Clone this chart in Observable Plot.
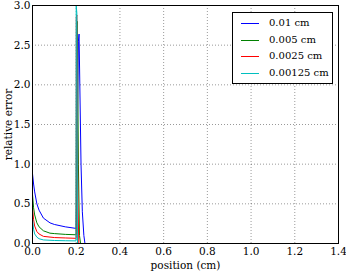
<!DOCTYPE html>
<html><head><meta charset="utf-8">
<script src="https://cdn.jsdelivr.net/npm/d3@7"></script>
<script src="https://cdn.jsdelivr.net/npm/@observablehq/plot@0.6"></script>
<style>
body{margin:0;background:#fff;}
#wrap{position:relative;width:346px;height:273px;font-family:'DejaVu Serif',serif;}
#legend{position:absolute;left:232px;top:12px;width:101px;height:72px;border:1px solid #000;background:#fff;font-size:10px;box-sizing:border-box;font-family:'DejaVu Serif',serif;}
.row{position:absolute;left:0;height:14px;line-height:14px;}
.sw{position:absolute;left:8px;top:7px;width:18px;height:0;border-top:1px solid;}
.lb{position:absolute;left:36px;white-space:nowrap;}
</style></head><body>
<div id="wrap"><div id="chart"></div><div id="legend"></div></div>
<script>
const seriesNames = ["0.01 cm","0.005 cm","0.0025 cm","0.00125 cm"];
const seriesColors = ["#0000ff","#008000","#ff0000","#00bfbf"];
const xTicks = [0,0.2,0.4,0.6,0.8,1.0,1.2,1.4];
const yTicks = [0,0.5,1.0,1.5,2.0,2.5,3.0];
const blueX = [0,0.005,0.01,0.02,0.03,0.05,0.08,0.1,0.15,0.2,0.21,0.213,0.222,0.228,0.235,0.24,1.4];
const blueY = [0.88,0.75,0.65,0.5,0.42,0.32,0.26,0.24,0.21,0.19,2.55,2.64,1.0,0.4,0.1,0,0];
const greenX = [0,0.005,0.01,0.02,0.03,0.05,0.08,0.1,0.15,0.2,0.202,0.205,0.21,0.215,0.22,1.4];
const greenY = [0.62,0.45,0.36,0.26,0.21,0.16,0.13,0.125,0.115,0.11,2.7,2.8,1.0,0.1,0,0];
const redX = [0,0.005,0.01,0.02,0.03,0.05,0.1,0.15,0.2,0.2005,0.203,0.208,0.212,1.4];
const redY = [0.45,0.3,0.22,0.15,0.12,0.09,0.075,0.07,0.065,2.85,2.88,0.5,0,0];
const cyanX = [0,0.005,0.01,0.02,0.03,0.05,0.1,0.15,0.199,0.2,0.203,0.206,1.4];
const cyanY = [0.32,0.18,0.12,0.08,0.06,0.045,0.038,0.035,0.033,3.0,2.9,0,0];

const allX=[blueX,greenX,redX,cyanX], allY=[blueY,greenY,redY,cyanY];
const data=[];
allX.forEach((xs,i)=>xs.forEach((x,j)=>data.push({x,y:allY[i][j],s:seriesNames[i]})));

const plot = Plot.plot({
  width:346,height:273,
  marginLeft:32,marginRight:8,marginTop:5,marginBottom:30,
  style:{fontFamily:"'DejaVu Serif', serif",fontSize:"10.5px",color:"#000",background:"#fff"},
  x:{domain:[0,1.4],ticks:xTicks,tickFormat:d3.format(".1f"),tickSize:0,tickPadding:4,label:"position (cm)",labelAnchor:"center",labelArrow:"none",labelOffset:25},
  y:{domain:[0,3.0],ticks:yTicks,tickFormat:d3.format(".1f"),tickSize:0,tickPadding:2,label:"relative error",labelAnchor:"center",labelArrow:"none",labelOffset:28},
  color:{domain:seriesNames,range:seriesColors},
  marks:[
    Plot.gridX(xTicks,{stroke:"#000",strokeOpacity:0.4,strokeDasharray:"1,2"}),
    Plot.gridY(yTicks,{stroke:"#000",strokeOpacity:0.4,strokeDasharray:"1,2"}),
    Plot.line(data,{x:"x",y:"y",z:"s",stroke:"s",strokeWidth:1}),
    Plot.frame({stroke:"#000",strokeWidth:1})
  ]
});
document.getElementById("chart").appendChild(plot);
const lg=document.getElementById("legend");
seriesNames.forEach((n,i)=>{
  const r=document.createElement("div");r.className="row";r.style.top=(3+i*16.5)+"px";r.style.width="100%";
  r.innerHTML=`<div class="sw" style="border-color:${seriesColors[i]}"></div><div class="lb">${n}</div>`;
  lg.appendChild(r);
});
</script></body></html>
